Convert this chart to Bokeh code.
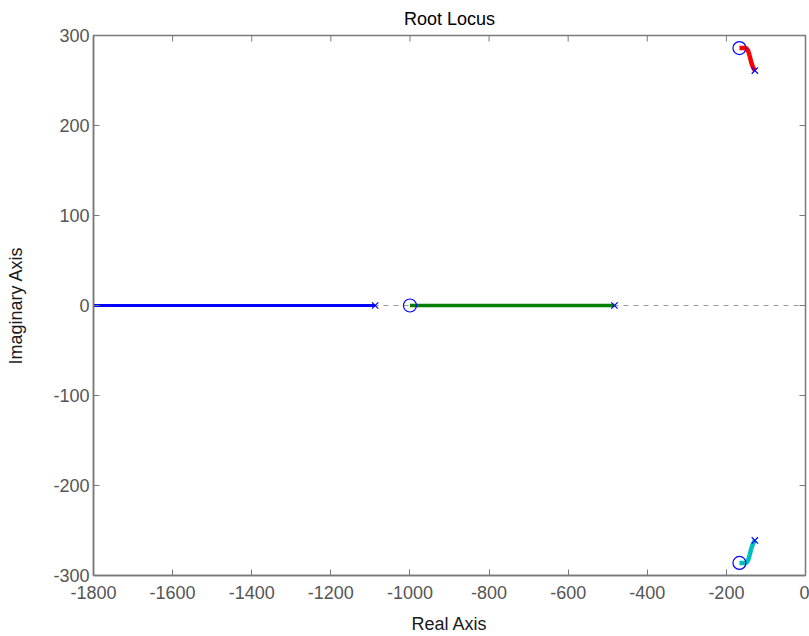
import math
from bokeh.plotting import figure
from bokeh.models import Range1d, Span, FixedTicker
from bokeh.embed import file_html
from bokeh.resources import INLINE

# ---- data ----
x_ticks = [-1800, -1600, -1400, -1200, -1000, -800, -600, -400, -200, 0]
y_ticks = [-300, -200, -100, 0, 100, 200, 300]

pole_re = [-1088, -483, -128, -128]
pole_im = [0, 0, 261, -261]
zero_re = [-1000, -167, -167]
zero_im = [0, 286, -286]

branch1_re = [-1800, -1088]
branch1_im = [0, 0]
branch2_re = [-1000, -483]
branch2_im = [0, 0]
branch3_re = [-167, -150, -145, -141, -137, -133, -128]
branch3_im = [286, 286, 283, 277, 270, 265, 261]
branch4_re = [-167, -150, -145, -141, -137, -133, -128]
branch4_im = [-286, -286, -283, -277, -270, -265, -261]

title_text = "Root Locus"
xlabel_text = "Real Axis"
ylabel_text = "Imaginary Axis"

FONT = "Liberation Sans"
AX = "#7a7a7a"
TXT = "#555555"

x0, x1 = x_ticks[0], x_ticks[-1]
y0, y1 = y_ticks[0], y_ticks[-1]

p = figure(width=809, height=636, x_range=Range1d(x0, x1), y_range=Range1d(y0, y1),
           output_backend="svg", toolbar_location=None, title=title_text,
           min_border_left=93, min_border_right=4, min_border_top=35, min_border_bottom=59)
p.grid.visible = False
p.background_fill_color = "white"
p.border_fill_color = "white"
p.outline_line_color = AX
p.outline_line_width = 1.5

p.title.align = "center"
p.title.text_font = FONT
p.title.text_font_size = "18px"
p.title.text_font_style = "normal"
p.title.text_color = "black"
p.title.standoff = 13

def style(ax, ticks, standoff, label, label_standoff):
    ax.ticker = FixedTicker(ticks=ticks)
    ax.major_label_overrides = {t: str(t) for t in ticks}
    ax.axis_line_color = AX
    ax.axis_line_width = 1.5
    ax.major_tick_line_color = AX
    ax.major_tick_line_width = 1
    ax.major_tick_in = 6
    ax.major_tick_out = 0
    ax.minor_tick_line_color = None
    ax.major_label_text_font = FONT
    ax.major_label_text_color = TXT
    ax.major_label_text_font_size = "18px"
    ax.major_label_standoff = standoff
    ax.axis_label = label
    ax.axis_label_standoff = label_standoff
    ax.axis_label_text_font = FONT
    ax.axis_label_text_font_size = "18px"
    ax.axis_label_text_font_style = "normal"
    ax.axis_label_text_color = "#1a1a1a"

style(p.xaxis[0], x_ticks, 10, xlabel_text, 12)
style(p.yaxis[0], y_ticks, 4, ylabel_text, 24)

# inward ticks on top and right edges (outer halves are clipped by the frame)
p.scatter(x_ticks, [y1] * len(x_ticks), marker="dash", angle=math.pi / 2, size=12,
          line_color=AX, line_width=1)
p.scatter([x1] * len(y_ticks), y_ticks, marker="dash", size=12,
          line_color=AX, line_width=1)

p.add_layout(Span(location=0, dimension="width", line_color="#9a9a9a",
                  line_width=1, line_dash="5 5", level="underlay"))

p.line(branch1_re, branch1_im, line_color="#0000ff", line_width=3)
p.line(branch2_re, branch2_im, line_color="#008000", line_width=3.5)
p.line(branch3_re, branch3_im, line_color="#ff0000", line_width=4.5)
p.line(branch4_re, branch4_im, line_color="#00bfbf", line_width=4.5)

p.scatter(pole_re, pole_im, marker="x", size=9, line_color="#0000ff", line_width=1.2)
p.scatter(zero_re, zero_im, marker="circle", size=13, fill_color=None,
          line_color="#0000ff", line_width=1.2)

open("out.html", "w").write(file_html(p, INLINE))
